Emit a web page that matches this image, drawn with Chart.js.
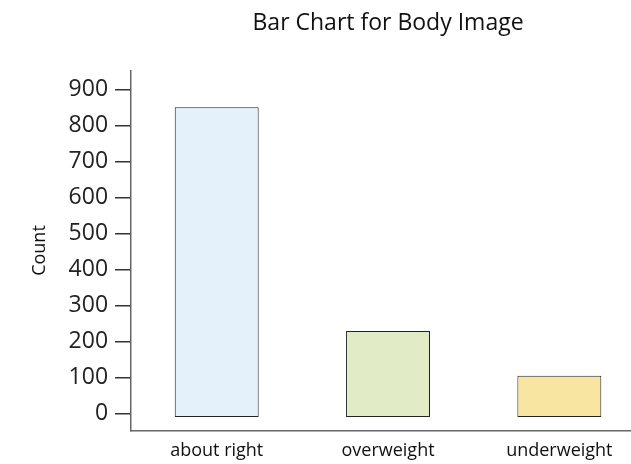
<!DOCTYPE html>
<html>
<head>
<meta charset="utf-8">
<script src="https://cdn.jsdelivr.net/npm/chart.js@4"></script>
<style>
  html, body { margin: 0; padding: 0; background: #fff; overflow: hidden; }
  #wrap { width: 631px; height: 464px; overflow: hidden; }
</style>
</head>
<body>
<div id="wrap"><canvas id="barchart" width="645" height="472"></canvas></div>
<script>
const categories = ['about right', 'overweight', 'underweight'];
const counts = [851, 229, 105];
const barColors = ['#e5f1fa', '#e1ecc6', '#f9e5a2'];
const yTicks = [0, 100, 200, 300, 400, 500, 600, 700, 800, 900];

const ctx = document.getElementById('barchart').getContext('2d');
const barchart = new Chart(ctx, {
    type: 'bar',
    data: {
        labels: categories,
        datasets: [{
            label: 'Count',
            data: counts,
            base: -10,
            backgroundColor: barColors,
            borderColor: '#222',
            borderWidth: 1,
            borderSkipped: false,
            barPercentage: 1,
            categoryPercentage: 0.49
        }]
    },
    options: {
        responsive: false,
        animation: false,
        layout: { padding: { top: 10, right: 0, bottom: 0, left: 29 } },
        plugins: {
            legend: { display: false },
            tooltip: { enabled: false },
            title: {
                display: true,
                fullSize: false,
                text: 'Bar Chart for Body Image',
                color: '#111',
                font: { family: 'Open Sans', size: 23, weight: 'normal' },
                padding: { top: 0, bottom: 33 }
            }
        },
        scales: {
            x: {
                grid: { display: false, drawTicks: false },
                border: { display: true, color: '#666', width: 1.5 },
                ticks: {
                    color: '#111',
                    font: { family: 'Open Sans', size: 18 },
                    padding: 10
                }
            },
            y: {
                min: -47,
                max: 953,
                afterBuildTicks: s => {
                    s.ticks = yTicks.map(v => ({ value: v }));
                },
                grid: {
                    drawOnChartArea: false,
                    drawTicks: true,
                    tickLength: 16,
                    color: '#333',
                    lineWidth: 1.5
                },
                border: { display: true, color: '#666', width: 1.5 },
                ticks: {
                    color: '#222',
                    font: { family: 'Open Sans', size: 23 },
                    padding: 7
                },
                title: {
                    display: true,
                    text: 'Count',
                    color: '#111',
                    font: { family: 'Open Sans', size: 18 },
                    padding: { top: 0, bottom: 11 }
                }
            }
        }
    }
});
</script>
</body>
</html>
